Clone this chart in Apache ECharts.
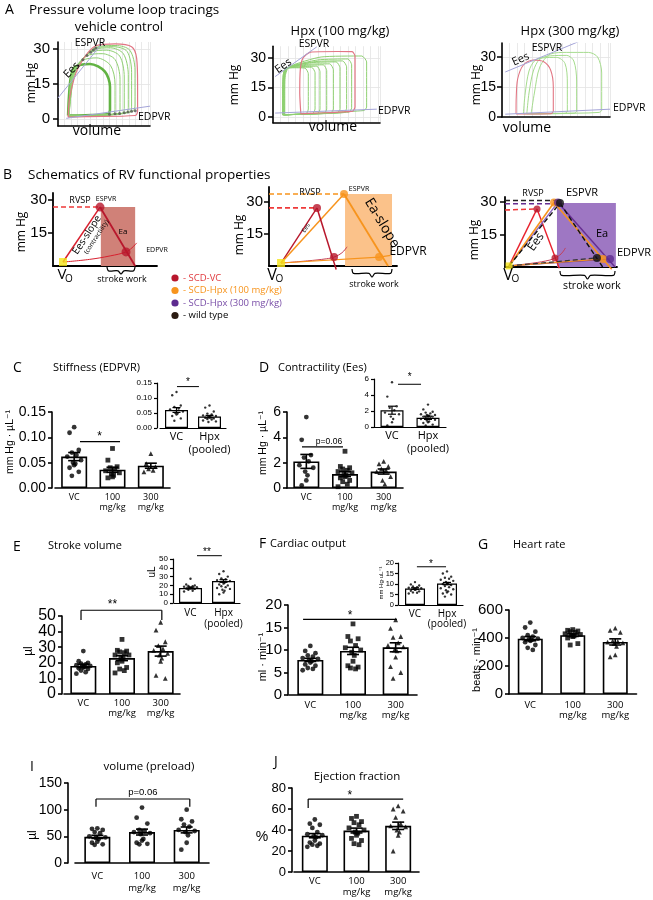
<!DOCTYPE html>
<html><head><meta charset="utf-8">
<script src="https://cdn.jsdelivr.net/npm/echarts@6/dist/echarts.min.js"></script>
<style>html,body{margin:0;padding:0;background:#fff}#c{width:653px;height:900px}</style>
</head><body><div id="c"></div>
<script>
// ================= DATA =================
// ---- Panel A: pressure-volume loops (volume: arbitrary units 0-100, pressure: mm Hg)
const pvTicks = [0, 15, 30];
const vcGreenLoops = [
 [[11,1.5],[12,10],[14,18],[18.5,22.4],[34.8,23.6],[51,20.3],[56.5,13.8],[56.5,4],[54,2],[30,1.6],[11,1.5]],
 [[11.5,1.4],[12.5,10],[15,19],[26,25],[42,26.2],[57,23],[62,15],[62,4],[60,2],[30,1.5],[11.5,1.4]],
 [[12,1.3],[13,10],[16,20],[31,27],[48,28],[62,25.5],[67.4,17],[67.4,4],[65,2.1],[30,1.4],[12,1.3]],
 [[12,1.3],[13,10],[17,20],[35,28.5],[53,29.5],[67,27],[72,18],[72,4.5],[70,2.3],[30,1.4],[12,1.3]],
 [[12,1.2],[13.5,10],[18,21],[38,29.5],[57,30.5],[71,28],[76.4,19],[76.4,5],[74,2.6],[30,1.4],[12,1.2]],
 [[12,1.2],[14,10],[19,21],[40,30.3],[60,31],[75,29],[80,20],[80,5.5],[78,2.9],[30,1.4],[12,1.2]],
 [[12,1.2],[14,10],[20,21],[42,30.8],[63,31.5],[78,29.5],[83.7,21],[83.7,6],[81,3.2],[30,1.4],[12,1.2]]
];
const vcRedLoop = [[11,0.8],[13,10],[22,22],[42,31.5],[62,32.2],[80,31],[85.5,26],[86.5,15],[86.5,3.5],[84,1.5],[30,1],[11,0.8]];
const vcEspvr = [[0,9],[47,32]];
const vcEdpvr = [[9,0.3],[100,5.5]];
const vcEsPts = [[22,22.8],[27,25.4],[31.5,27.2],[35.5,28.6],[38.5,29.6],[41,30.4]];
const vcEdPts = [[56,2],[62,2.2],[67,2.4],[72,2.7],[76,3],[80,3.3],[84,3.5]];

const h100GreenLoops = [
 [[9,1],[9,12],[9.5,21],[11.5,24.5],[22,25],[30,24.8],[33,22],[33,4],[31,1.6],[14,1.1],[9,1]],
 [[9,1],[9,12],[9.5,21],[11.5,24.6],[25,25.3],[36,25.3],[39.3,22.5],[39.3,4],[37,1.7],[14,1.1],[9,1]],
 [[9.5,1],[9.5,12],[10,21],[12,24.7],[27,25.6],[41,25.8],[43.9,23],[43.9,4],[42,1.8],[14,1.1],[9.5,1]],
 [[9.5,1],[9.5,12],[10,21],[12,24.8],[30,26.2],[47,26.5],[50.2,23.5],[50.2,4],[48,1.9],[14,1.1],[9.5,1]],
 [[10,1],[10,12],[10.5,21],[12.5,24.9],[33,26.8],[53,27],[56.4,24],[56.4,4],[54,2],[15,1.1],[10,1]],
 [[10,1],[10,12],[10.5,21],[13,25],[36,27.6],[59,28],[62.6,25],[62.6,4.2],[60.5,2.1],[15,1.1],[10,1]],
 [[10.5,1],[10.5,12],[11,21],[13.5,25],[40,28.2],[65,28.5],[68.8,25.5],[68.8,4.4],[66.5,2.2],[15,1.1],[10.5,1]],
 [[10.5,1],[10.5,12],[11,21],[14,25.2],[42,29],[70,29.5],[73.5,26.5],[73.5,4.6],[71,2.4],[15,1.1],[10.5,1]],
 [[11,1],[11,12],[11.5,21],[15,25.5],[45,30.5],[83,31],[87.5,28],[87.5,5],[85,3.2],[16,1.2],[11,1]]
];
const h100RedLoop = [[26,1.5],[25,12],[25.5,24],[28,30],[35,33],[60,33.3],[74,33.2],[76.6,31],[76.6,5],[74.5,2.9],[40,1.9],[26,1.5]];
const h100Espvr = [[2,20.5],[41,35.7]];
const h100Edpvr = [[2,1.9],[97,3.9]];

const h300GreenLoops = [
 [[19.8,1.6],[21.5,12],[25,23],[30,28],[37,29.5],[50.6,29.8],[58.3,26.8],[60.5,17],[60.5,3],[58.3,1.8],[35,1.6],[19.8,1.6]],
 [[23,1.6],[25,12],[29,23],[35,29],[45,30.6],[60,30.8],[66.5,28],[69.1,18],[69.1,3],[67,1.9],[40,1.7],[23,1.6]],
 [[27,1.7],[30,12],[35,25],[45,31.5],[60,32.3],[80,32.3],[88.5,30],[92.3,22],[92.3,3.5],[90,2.3],[50,1.8],[27,1.7]]
];
const h300RedLoop = [[13,1.5],[13.2,10],[14.5,19],[19.8,26],[29,28.5],[38.3,27.7],[45,23.5],[47.5,15],[47.5,3],[45,1.6],[25,1.5],[13,1.5]];
const h300Espvr = [[3,22.5],[71,37.7]];
const h300Edpvr = [[3,1.4],[100,3.9]];

// ---- Panel B: schematics (volume arbitrary 0-100, pressure mm Hg)
const schTicks = [15, 30];
const b1Vo = [9.6,1.8], b1Esp = [45.2,26.8], b1Edp = [70.2,6.4], b1EaEnd = [79,0];
const b1EdpvrCurve = [[9.6,1.8],[35,3],[55,4.6],[70.2,6.4],[76,8.3],[80.5,10.5]];
const b1StrokeWork = [46,79,26.8];

const b2Vo = [9.4,1.4], b2RedEsp = [37.5,27.2], b2RedEdp = [50.8,4.2], b2OrEsp = [58.6,33.75], b2OrEdp = [86,4.2];
const b2OrEaEnd = [93,0], b2RedEaEnd = [52.5,-1.6];
const b2RedEdpvr = [[9.4,1.4],[30,2.4],[45,3.4],[50.8,4.2],[57,6.2],[61,9]];
const b2OrEdpvr = [[9.4,1.4],[86,4.2],[95,5]];
const b2StrokeWork = [59.4,96.1,33.75];

const b3Vo = [3.6,0.5], b3RedEsp = [28.6,26.8], b3RedEdp = [44.6,4.2];
const b3OrEsp = [43.75,29.8], b3PuEsp = [47.3,29.8], b3BkEsp = [49.1,29.5];
const b3BkEdp = [82.1,4.2], b3OrEdp = [87.5,3.7], b3PuEdp = [93.75,3.7];
const b3RedEaEnd = [48.5,-0.6], b3OrEaEnd = [95.3,-1], b3PuEaEnd = [98.2,0], b3BkEaEnd = [87.2,0];
const b3RedEdpvr = [[3.6,0.5],[25,1.8],[40,3.2],[44.6,4.2],[50,6],[54,8.8]];
const b3StrokeWork = [46.4,99,29.5];
const b3Rvsp = {red:26.3, purple:29.2, black:30.7};

// ---- Bar panels
const groupCats = ['VC', '100\nmg/kg', '300\nmg/kg'];
const pooledCats = ['VC', 'Hpx\n(pooled)'];

const stiffTicks = [0, 0.05, 0.10, 0.15];
const stiffMean = [0.062, 0.036, 0.044], stiffSem = [0.008, 0.005, 0.005];
const stiffVC = [0.12,0.109,0.075,0.07,0.065,0.062,0.055,0.05,0.048,0.045,0.04,0.032,0.024];
const stiff100 = [0.078,0.055,0.042,0.04,0.037,0.034,0.03,0.028,0.025,0.022,0.02];
const stiff300 = [0.068,0.048,0.042,0.038,0.035,0.032];
const stiffPoolMean = [0.06, 0.038], stiffPoolSem = [0.008, 0.004];
const stiffPooled = [0.075,0.068,0.055,0.048,0.045,0.042,0.04,0.038,0.036,0.035,0.034,0.032,0.03,0.028,0.025,0.022,0.02];

const eesTicks = [0, 2, 4, 6];
const eesMean = [2.1, 1.1, 1.3], eesSem = [0.55, 0.2, 0.2];
const eesVC = [5.6,3.8,2.6,2.4,2.1,1.8,1.6,1.3,1.0,0.6,0.2];
const ees100 = [2.9,1.7,1.6,1.5,1.4,1.3,1.2,1.1,1.0,0.9,0.8,0.6,0.5,0.3,0.1];
const ees300 = [2.1,1.9,1.7,1.5,1.4,1.3,0.9,0.6,0.3];
const eesPoolMean = [2.1, 1.15], eesPoolSem = [0.5, 0.2];
const eesPooled = [2.8,2.2,1.9,1.8,1.7,1.6,1.5,1.5,1.4,1.4,1.3,1.3,1.2,1.1,1.0,0.9,0.8,0.7,0.6,0.5,0.3,0.2];

const svTicks = [0, 10, 20, 30, 40, 50];
const svMean = [18, 23, 27.5], svSem = [1.1, 1.6, 3.2];
const svVC = [27.5,21,20,19.5,19,18.5,18,18,17.5,17,16.5,16,15,14,13];
const sv100 = [35,28,27.5,27,26.5,25,25,23,23,21,20,17,16,15,13.5];
const sv300 = [46,41,33.5,31,29,28,26,25,23,21,12,10];
const svPoolMean = [17, 25], svPoolSem = [1, 1.5];
const svPooled = [36,33,30,28,27,26,25,24,23,22,21,20,19,18,17,16,15,14,12,10];

const coTicks = [0, 5, 10, 15, 20];
const coMean = [7.8, 9.8, 10.6], coSem = [0.35, 0.8, 1.0];
const coVC = [10.9,9.8,9.3,8.8,8.5,8.2,8,7.8,7.5,7.2,6.8,6.5,6,5.8,5.5];
const co100 = [15.8,13,12.5,12,11,10.5,10,9.5,8.8,7.5,6.5,6.2,6,5.8];
const co300 = [16.7,14.8,13,12.8,11.6,11,10.7,10,9.8,8.4,6.3,5,3.7];
const coPoolMean = [7.8, 10.2], coPoolSem = [0.4, 0.55];
const coPooled = [16,15,13.5,13,12.5,12,11.5,11,10.5,10,10,9.5,9,8.5,8,7.5,7,6.5,6,5.5,5,4];

const hrTicks = [0, 200, 400, 600];
const hrMean = [395, 420, 372], hrSem = [15, 9, 22];
const hrVC = [510,475,445,420,410,400,395,390,385,380,370,350,330,315];
const hr100 = [460,455,450,445,440,430,425,420,415,410,400,360,350];
const hr300 = [470,455,440,380,375,370,365,360,340,280,265];

const preTicks = [0, 50, 100, 150];
const preMean = [49, 58, 62], preSem = [3, 5.5, 5.5];
const preVC = [65,64,62,58,56,50,48,47,45,40,38,35,34];
const pre100 = [104,85,74,62,60,58,56,54,45,42,38,36,35];
const pre300 = [100,82,78,72,68,62,60,58,52,38,25];

const efTicks = [0, 20, 40, 60, 80];
const efMean = [34.6, 39.5, 44], efSem = [2, 2.3, 3.5];
const efVC = [50,46,45,42,38,36,35,34,33,30,28,27,26,25,24];
const ef100 = [53,51,48,47,45,42,40,38,37,35,32,30,27,26];
const ef300 = [63,60,58,52,46,44,43,40,38,35,20];

// ================= BUILD =================
const SANS = '"Open Sans","Noto Sans",sans-serif';
const ARIAL = '"Liberation Sans","DejaVu Sans",sans-serif';
const grids = [], xAxes = [], yAxes = [], series = [], graphics = [];
const JIT = [0,-1,1,-0.5,0.5,-1.5,1.5,-0.25,0.25];
const axLine = (w) => ({show:true, onZero:false, lineStyle:{color:'#000', width:w||1.6}});

function T(x, y, text, size, o) {
  o = o || {};
  const al = o.align || 'center', va = o.va || 'middle';
  graphics.push({type:'text', x, y, rotation:(o.rot||0)*Math.PI/180, silent:true, z:100,
    style:{text, font:`${size}px ${o.family||SANS}`, fill:o.color||'#000',
      align:al, verticalAlign:va, textAlign:al, textVerticalAlign:va}});
}
function brace(x0, x1, y0, h) {
  const xm = (x0+x1)/2;
  graphics.push({type:'polyline', silent:true, z:100, shape:{points:[[x0,y0],[x0+1.5,y0+h*0.55],[xm-3,y0+h*0.55],[xm,y0+h],[xm+3,y0+h*0.55],[x1-1.5,y0+h*0.55],[x1,y0]], smooth:0.3},
    style:{stroke:'#000', lineWidth:1.2, fill:null}});
}

function line(ax, data, color, width, o) {
  o = o || {};
  series.push({type:'line', xAxisIndex:ax.xi, yAxisIndex:ax.yi, data, showSymbol:false, symbol:'none',
    smooth:o.smooth||false, silent:true, clip:o.clip!==undefined?o.clip:false, z:o.z||2,
    lineStyle:{color, width, type:o.dash?[5,3]:'solid', opacity:o.op||1}});
}
function pts(ax, data, color, size, symbol, z) {
  series.push({type:'scatter', xAxisIndex:ax.xi, yAxisIndex:ax.yi, data, symbol:symbol||'circle', symbolSize:size,
    itemStyle:{color}, silent:true, z:z||3});
}

// ---- PV panel
function pvPanel(o) {
  const gi = grids.push({left:o.left, top:o.top, width:o.width, height:o.height}) - 1;
  const xi = xAxes.push({type:'value', gridIndex:gi, min:0, max:100, interval:7, axisLine:axLine(1.6),
    axisTick:{show:false}, axisLabel:{show:false}, splitLine:{show:true, lineStyle:{color:'#e3e3e3', width:0.8}}}) - 1;
  const yi = yAxes.push({type:'value', gridIndex:gi, min:o.ymin, max:o.ymax, interval:3, axisLine:axLine(1.6),
    axisTick:{show:true, customValues:pvTicks, length:5, lineStyle:{color:'#000', width:1.5}},
    axisLabel:{customValues:pvTicks, fontSize:o.tickFont, fontFamily:ARIAL, color:'#000', margin:o.margin},
    splitLine:{show:true, lineStyle:{color:'#e3e3e3', width:0.8}}}) - 1;
  return {xi, yi};
}
const LG = '#8fd072', LGB = '#62b343', LR = '#e27684', LP = '#a4a4d8';
const a1 = pvPanel({left:58, top:42, width:92, height:84, ymin:-3, ymax:33, tickFont:15, margin:8});
vcGreenLoops.forEach((l,i)=>line(a1, l, i===0?LGB:LG, i===0?2.6:1, {smooth:0.3, clip:true}));
line(a1, vcRedLoop, LR, 1.2, {smooth:0.3, clip:true});
line(a1, vcEspvr, LP, 1, {clip:true}); line(a1, vcEdpvr, LP, 1);
pts(a1, vcEsPts, '#555', 3); pts(a1, vcEdPts, '#555', 3);

const a2 = pvPanel({left:273, top:46.2, width:107, height:76.5, ymin:-3, ymax:36, tickFont:14, margin:7});
h100GreenLoops.forEach((l)=>line(a2, l, LG, 1, {smooth:0.2, clip:true}));
line(a2, h100RedLoop, LR, 1.2, {smooth:0.2, clip:true});
line(a2, h100Espvr, LP, 1, {clip:true}); line(a2, h100Edpvr, LP, 1);

const a3 = pvPanel({left:502, top:43, width:108, height:74, ymin:0, ymax:37, tickFont:14, margin:6});
h300GreenLoops.forEach((l)=>line(a3, l, '#a6dc8e', 1, {smooth:0.3, clip:true}));
line(a3, h300RedLoop, LR, 1.1, {smooth:0.3, clip:true});
line(a3, h300Espvr, LP, 1, {clip:true}); line(a3, h300Edpvr, LP, 1);

// ---- Schematic panels
function schematic(o) {
  const gi = grids.push({left:o.left, top:o.top, width:o.width, height:o.height}) - 1;
  const xi = xAxes.push({type:'value', gridIndex:gi, min:0, max:100, axisLine:axLine(1.8), axisTick:{show:false},
    axisLabel:{show:false}, splitLine:{show:false}}) - 1;
  const yi = yAxes.push({type:'value', gridIndex:gi, min:0, max:o.ymax, axisLine:axLine(1.8),
    axisTick:{show:true, customValues:schTicks, length:5, lineStyle:{color:'#000', width:1.5}},
    axisLabel:{customValues:schTicks, fontSize:15, fontFamily:ARIAL, color:'#000', margin:o.margin},
    splitLine:{show:false}}) - 1;
  return {xi, yi};
}
function swRect(ax, box, color) {
  series.push({type:'custom', xAxisIndex:ax.xi, yAxisIndex:ax.yi, silent:true, z:1, data:[box],
    renderItem:(p, api) => {
      const a = api.coord([api.value(0), 0]), b = api.coord([api.value(1), api.value(2)]);
      return {type:'rect', shape:{x:a[0], y:b[1], width:b[0]-a[0], height:a[1]-b[1]}, style:{fill:color}};
    }});
}
const RED = '#d8202f', DRED = '#b8172c', ORG = '#f7941d', PUR = '#662d91', YEL = '#f4e317';

const b1 = schematic({left:53, top:193, width:104, height:73, ymax:33.2, margin:6});
swRect(b1, b1StrokeWork, '#d08178');
line(b1, [[0,b1Esp[1]], b1Esp], '#ee3a3a', 1.6, {dash:true});
line(b1, [b1Vo, b1Esp], RED, 1.5);
line(b1, [b1Esp, b1EaEnd], DRED, 1.8);
line(b1, b1EdpvrCurve, RED, 1, {smooth:0.4});
pts(b1, [b1Esp, b1Edp], DRED, 9);
pts(b1, [b1Vo], YEL, 8, 'rect', 4);

const b2 = schematic({left:269, top:187, width:128, height:79, ymax:37, margin:6});
swRect(b2, b2StrokeWork, '#fbc28a');
line(b2, [[0,b2OrEsp[1]], b2OrEsp], ORG, 1.6, {dash:true});
line(b2, [[0,b2RedEsp[1]], b2RedEsp], '#ee3a3a', 1.6, {dash:true});
line(b2, [b2Vo, b2RedEsp], DRED, 1.4);
line(b2, [b2Vo, b2OrEsp], ORG, 1.5);
line(b2, [b2RedEsp, b2RedEaEnd], DRED, 1.5);
line(b2, [b2OrEsp, b2OrEaEnd], ORG, 1.8);
line(b2, b2RedEdpvr, '#c43d55', 1, {smooth:0.4});
line(b2, b2OrEdpvr, ORG, 1.2);
pts(b2, [b2RedEsp, b2RedEdp], DRED, 8);
pts(b2, [b2OrEsp, b2OrEdp], ORG, 8);
pts(b2, [b2Vo], YEL, 8, 'rect', 4);

const b3 = schematic({left:505, top:197, width:112, height:70, ymax:32.3, margin:8});
swRect(b3, b3StrokeWork, '#9e77c3');
line(b3, [[0,b3Rvsp.black], [b3BkEsp[0], b3Rvsp.black]], '#222', 1.6, {dash:true});
line(b3, [[0,b3Rvsp.purple], [b3PuEsp[0], b3Rvsp.purple]], PUR, 1.6, {dash:true});
line(b3, [[0,b3Rvsp.red], b3RedEsp], '#ee3a3a', 1.6, {dash:true});
line(b3, [b3Vo, b3RedEsp], '#e8222e', 1.4);
line(b3, [b3RedEsp, b3RedEaEnd], '#e8222e', 1.4);
line(b3, b3RedEdpvr, '#c43d55', 1, {smooth:0.4});
line(b3, [b3Vo, b3PuEsp], '#8a64c0', 1.4);
line(b3, [b3Vo, b3OrEsp], ORG, 1.6);
line(b3, [b3Vo, b3BkEsp], '#111', 1.4, {dash:true});
line(b3, [b3PuEsp, b3PuEaEnd], PUR, 1.4);
line(b3, [b3OrEsp, b3OrEaEnd], ORG, 1.6);
line(b3, [b3BkEsp, b3BkEaEnd], '#111', 1.4, {dash:true});
line(b3, [b3Vo, b3PuEdp], PUR, 1.2);
line(b3, [b3Vo, b3OrEdp], ORG, 1.2);
line(b3, [b3Vo, b3BkEdp], '#333', 1.2, {dash:true});
pts(b3, [b3RedEsp, b3RedEdp], DRED, 7);
pts(b3, [b3OrEsp, b3OrEdp], ORG, 8);
pts(b3, [b3PuEsp, b3PuEdp], '#5e2b8f', 8);
pts(b3, [b3BkEsp, b3BkEdp], '#111', 8);
pts(b3, [b3Vo], YEL, 7, 'rect', 4);

// ---- Bar panels
function errRender(cap, lw) {
  return function (params, api) {
    const x = api.value(0), m = api.value(1), s = api.value(2);
    const t = api.coord([x, m + s]), b = api.coord([x, m - s]);
    const st = {stroke:'#000', lineWidth:lw};
    return {type:'group', children:[
      {type:'line', shape:{x1:t[0], y1:t[1], x2:b[0], y2:b[1]}, style:st},
      {type:'line', shape:{x1:t[0]-cap, y1:t[1], x2:t[0]+cap, y2:t[1]}, style:st},
      {type:'line', shape:{x1:b[0]-cap, y1:b[1], x2:b[0]+cap, y2:b[1]}, style:st}]};
  };
}
function barPanel(o) {
  const gi = grids.push({left:o.left, top:o.top, width:o.width, height:o.height}) - 1;
  const lw = o.lw || 1.6;
  const xc = xAxes.push({type:'category', gridIndex:gi, data:o.cats, axisLine:axLine(lw), axisTick:{show:false},
    axisLabel:{interval:0, color:'#000', fontFamily:o.catFamily||SANS, fontSize:o.catFont, lineHeight:o.catLH, margin:o.catMargin}}) - 1;
  const xv = xAxes.push({type:'value', gridIndex:gi, min:-0.5, max:o.cats.length-0.5, show:false}) - 1;
  const yi = yAxes.push({type:'value', gridIndex:gi, min:0, max:o.ymax, interval:o.interval, offset:o.offset||0,
    axisLine:axLine(lw), axisTick:{show:true, length:o.tickLen||4, lineStyle:{color:'#000', width:lw}},
    axisLabel:{show:false}, splitLine:{show:false}}) - 1;
  // y tick labels drawn through the y scale
  const off = (o.offset||0) + o.tickMargin;
  series.push({type:'custom', xAxisIndex:xv, yAxisIndex:yi, silent:true, z:6, data:o.ticks.map(v => [-0.5, v]),
    renderItem:(p, api) => {
      const v = api.value(1), c = api.coord([-0.5, v]);
      return {type:'text', x:c[0] - off, y:c[1], style:{text: o.dec ? v.toFixed(o.dec) : String(v),
        font:`${o.tickFont}px ${ARIAL}`, fill:'#000', align:'right', verticalAlign:'middle', textAlign:'right', textVerticalAlign:'middle'}};
    }});
  series.push({type:'bar', xAxisIndex:xc, yAxisIndex:yi, data:o.means, barWidth:o.barWidth, silent:true, z:2,
    itemStyle:{color:'#fff', borderColor:'#000', borderWidth:lw}});
  const data = [];
  o.groups.forEach((g, k) => g.forEach((v, i) => data.push({value:[k + JIT[i % JIT.length]*o.spread, v], symbol:o.symbols[k]})));
  series.push({type:'scatter', xAxisIndex:xv, yAxisIndex:yi, data, symbolSize:o.ptSize, silent:true, z:4, itemStyle:{color:'#000'}});
  series.push({type:'custom', xAxisIndex:xv, yAxisIndex:yi, silent:true, z:5,
    data:o.means.map((m, i) => [i, m, o.sems[i]]), renderItem:errRender(o.cap, lw)});
  return {xv, yi};
}
function sig(ax, a) {
  series.push({type:'custom', xAxisIndex:ax.xv, yAxisIndex:ax.yi, silent:true, z:6, data:[[a.x1, a.y]],
    renderItem:(p, api) => {
      const lw = a.lw || 1.2, st = {stroke:'#000', lineWidth:lw};
      const L = api.coord([a.x1, a.y]), R = api.coord([a.x2, a.y]);
      const ch = [{type:'line', shape:{x1:L[0], y1:L[1], x2:R[0], y2:R[1]}, style:st}];
      if (a.leg != null) {
        const l = api.coord([a.x1, a.leg]);
        ch.push({type:'line', shape:{x1:L[0], y1:L[1], x2:L[0], y2:l[1]}, style:st});
        if (!a.leftOnly) { const r = api.coord([a.x2, a.leg]); ch.push({type:'line', shape:{x1:R[0], y1:R[1], x2:R[0], y2:r[1]}, style:st}); }
      }
      const t = api.coord([a.tx, a.ty]), fs = a.fs || 12;
      const dy = a.text.indexOf('*') >= 0 ? fs*0.25 : 0;
      ch.push({type:'text', x:t[0], y:t[1] + dy, style:{text:a.text, font:`${fs}px ${ARIAL}`, fill:'#000',
        align:'center', verticalAlign:'middle', textAlign:'center', textVerticalAlign:'middle'}});
      return {type:'group', children:ch};
    }});
}
const SYM3 = ['circle', 'rect', 'triangle'];
const mainCommon = {cats:groupCats, catFont:9, catLH:10, catMargin:4, barWidth:26, spread:0.12, ptSize:4.8, cap:6, symbols:SYM3};
const insetCommon = {cats:pooledCats, catFont:11, catLH:12.5, catMargin:3, tickFont:8, tickMargin:5, tickLen:3, lw:1.2, spread:0.13, ptSize:2.4, cap:4, symbols:['circle','circle']};

// C
const cMain = barPanel(Object.assign({}, mainCommon, {left:55, top:412, width:115, height:76, ymax:0.15, interval:0.05, ticks:stiffTicks, dec:2, offset:3,
  tickFont:14, tickMargin:6, means:stiffMean, sems:stiffSem, groups:[stiffVC, stiff100, stiff300]}));
sig(cMain, {x1:0.152, x2:1.196, y:0.0914, text:'*', tx:0.66, ty:0.107, fs:12});
const cIn = barPanel(Object.assign({}, insetCommon, {left:160, top:383, width:66, height:45, ymax:0.15, interval:0.05, ticks:stiffTicks, dec:2, offset:3,
  barWidth:23, means:stiffPoolMean, sems:stiffPoolSem, groups:[stiffVC, stiffPooled]}));
sig(cIn, {x1:0.015, x2:0.68, y:0.138, text:'*', tx:0.35, ty:0.16, fs:10, lw:1});
// D
const dMain = barPanel(Object.assign({}, mainCommon, {left:287, top:412, width:116, height:76, ymax:6, interval:2, ticks:eesTicks,
  tickFont:14, tickMargin:6, means:eesMean, sems:eesSem, groups:[eesVC, ees100, ees300]}));
sig(dMain, {x1:-0.112, x2:0.948, y:3.24, text:'p=0.06', tx:0.586, ty:3.68, fs:8.5});
const dIn = barPanel(Object.assign({}, insetCommon, {left:374, top:379, width:72, height:48, ymax:6, interval:2, ticks:eesTicks,
  barWidth:23, means:eesPoolMean, sems:eesPoolSem, groups:[eesVC, eesPooled]}));
sig(dIn, {x1:0.167, x2:0.806, y:5.34, text:'*', tx:0.49, ty:6.5, fs:10, lw:1});
// E
const eMain = barPanel(Object.assign({}, mainCommon, {left:64, top:616, width:116, height:78, ymax:50, interval:10, ticks:svTicks, offset:2,
  catFont:9.5, tickFont:16, tickMargin:6, means:svMean, sems:svSem, groups:[svVC, sv100, sv300]}));
sig(eMain, {x1:-0.06, x2:2.03, y:53.7, leg:47.4, text:'**', tx:0.754, ty:59.2, fs:12});
const eIn = barPanel(Object.assign({}, insetCommon, {left:174, top:559, width:66, height:44, ymax:50, interval:10, ticks:svTicks, offset:1,
  catFont:10, catLH:10.5, catMargin:5, barWidth:23, means:svPoolMean, sems:svPoolSem, groups:[svVC, svPooled]}));
sig(eIn, {x1:0.197, x2:0.95, y:53.75, text:'**', tx:0.5, ty:60, fs:10, lw:1});
// F
const fMain = barPanel(Object.assign({}, mainCommon, {left:289, top:605, width:128, height:90, ymax:20, interval:5, ticks:coTicks, offset:1,
  catFont:9.5, catLH:10.5, catMargin:5, tickFont:15, tickMargin:6, means:coMean, sems:coSem, groups:[coVC, co100, co300]}));
sig(fMain, {x1:-0.17, x2:2.03, y:16.8, text:'*', tx:0.93, ty:18.2, fs:12});
const fIn = barPanel(Object.assign({}, insetCommon, {left:399, top:563, width:64, height:42, ymax:20, interval:5, ticks:coTicks, offset:1,
  catFont:10, catLH:10, catMargin:4, tickFont:7.5, tickMargin:4, barWidth:20, means:coPoolMean, sems:coPoolSem, groups:[coVC, coPooled]}));
sig(fIn, {x1:0.06, x2:0.97, y:18.2, text:'*', tx:0.5, ty:20.5, fs:10, lw:1});
// G
barPanel(Object.assign({}, mainCommon, {left:509, top:610, width:127.5, height:84, ymax:600, interval:200, ticks:hrTicks,
  catFont:9.5, catLH:10.5, catMargin:6, barWidth:25, tickFont:15, tickMargin:6, means:hrMean, sems:hrSem, groups:[hrVC, hr100, hr300]}));
// I
const iMain = barPanel(Object.assign({}, mainCommon, {left:75, top:783, width:134, height:80, ymax:150, interval:50, ticks:preTicks, offset:7,
  catFont:9.5, catLH:12, catMargin:7, tickFont:14, tickMargin:6, means:preMean, sems:preSem, groups:[preVC, pre100, pre300],
  symbols:['circle','circle','circle']}));
sig(iMain, {x1:-0.03, x2:2.07, y:120, leg:105.6, text:'p=0.06', tx:1.02, ty:132, fs:9.5});
// J
const jMain = barPanel(Object.assign({}, mainCommon, {left:294, top:788, width:125, height:84, ymax:80, interval:20, ticks:efTicks, offset:2,
  catFont:9.5, catLH:11, catMargin:4, tickFont:13, tickMargin:6, means:efMean, sems:efSem, groups:[efVC, ef100, ef300]}));
sig(jMain, {x1:-0.16, x2:2.12, y:69.5, leg:61, leftOnly:true, text:'*', tx:0.84, ty:76, fs:12});

// ---- Texts
T(5, 10.5, 'A', 14, {align:'left'});
T(29, 10.5, 'Pressure volume loop tracings', 13.5, {align:'left'});
T(119, 27.5, 'vehicle control', 13);
T(340, 31.7, 'Hpx (100 mg/kg)', 13);
T(570, 31.7, 'Hpx (300 mg/kg)', 13);
T(90, 43, 'ESPVR', 10.5); T(314, 44.3, 'ESPVR', 10.5); T(547, 48.3, 'ESPVR', 10.5);
T(71.7, 70, 'Ees', 11, {rot:45}); T(283.3, 66, 'Ees', 11, {rot:35}); T(520.7, 59.3, 'Ees', 11, {rot:25});
T(138, 117, 'EDPVR', 10.5, {align:'left'}); T(378, 111, 'EDPVR', 10.5, {align:'left'}); T(613, 108, 'EDPVR', 10.5, {align:'left'});
T(97, 131, 'volume', 14); T(333, 127, 'volume', 14); T(527, 128, 'volume', 14);
T(32, 83, 'mm Hg', 12, {rot:90}); T(235, 85, 'mm Hg', 12, {rot:90}); T(477, 85, 'mm Hg', 12, {rot:90});

T(3, 175, 'B', 14, {align:'left'});
T(28, 175, 'Schematics of RV functional properties', 13.5, {align:'left'});
T(22, 232, 'mm Hg', 12, {rot:90}); T(240, 235, 'mm Hg', 12, {rot:90}); T(475, 240, 'mm Hg', 12, {rot:90});
// B1
T(80, 200, 'RVSP', 9); T(106, 199, 'ESPVR', 7); T(123, 232, 'Ea', 8); T(157, 250, 'EDPVR', 7);
T(87, 235, 'Ees-slope', 10, {rot:57}); T(96.5, 237, '(contractility)', 6.5, {rot:57});
T(62, 275, 'V', 15); T(69, 279, 'O', 10);
T(122, 279, 'stroke work', 9); brace(107, 135, 267, 7);
// B2
T(310, 192, 'RVSP', 9); T(359, 189, 'ESPVR', 7); T(306, 228, 'Ees', 6, {rot:57});
T(382, 223, 'Ea-slope', 14, {rot:-59}); T(408, 252, 'EDPVR', 12);
T(272, 275, 'V', 16); T(279.5, 279, 'O', 10);
T(374, 284, 'stroke work', 9); brace(352, 392, 269, 8);
// B3
T(533, 193, 'RVSP', 9); T(582, 193, 'ESPVR', 11); T(602, 234, 'Ea', 11); T(634, 253, 'EDPVR', 11);
T(536, 242, 'Ees', 12, {rot:55});
T(508, 275, 'V', 16); T(515.5, 279, 'O', 10);
T(592, 286, 'stroke work', 10.5); brace(560, 615, 271, 8);
// legend
const legRows = [['- SCD-VC', '#e03a3e', DRED], ['- SCD-Hpx (100 mg/kg)', ORG, ORG], ['- SCD-Hpx (300 mg/kg)', '#7a4fa8', '#5e2b8f'], ['- wild type', '#000', '#2b1b12']];
legRows.forEach((r, i) => {
  const y = 278 + i*12.5;
  graphics.push({type:'circle', silent:true, z:100, shape:{cx:175, cy:y, r:3.6}, style:{fill:r[2]}});
  T(183, y, r[0], 9.5, {align:'left', color:r[1]});
});

// bar panel titles
T(13, 368, 'C', 14, {align:'left'}); T(53, 368, 'Stiffness (EDPVR)', 11, {align:'left'});
T(259, 368, 'D', 14, {align:'left'}); T(278, 368, 'Contractility (Ees)', 11, {align:'left'});
T(13, 547, 'E', 14, {align:'left'}); T(48, 546, 'Stroke volume', 11, {align:'left'});
T(259, 544, 'F', 14, {align:'left'}); T(270, 544, 'Cardiac output', 11, {align:'left'});
T(478, 545, 'G', 14, {align:'left'}); T(513, 545, 'Heart rate', 11, {align:'left'});
T(30, 767, 'I', 14, {align:'left'}); T(149, 767, 'volume (preload)', 11.5);
T(274, 762, 'J', 14, {align:'left'}); T(357, 777, 'Ejection fraction', 11.5);
// y names
T(10, 442, 'mm Hg · µL⁻¹', 10.5, {rot:90, family:ARIAL});
T(263, 443, 'mm Hg · µL⁻¹', 10.5, {rot:90, family:ARIAL});
T(29, 651, 'µl', 12, {rot:90, family:ARIAL});
T(152, 572, 'uL', 10, {rot:90, family:ARIAL});
T(263, 657, 'ml · min⁻¹', 11, {rot:90, family:ARIAL});
T(381, 583, 'mm Hg·uL⁻¹', 6, {rot:90, family:ARIAL});
T(477, 660, 'beats · min⁻¹', 11, {rot:90, family:ARIAL});
T(33, 835, 'µl', 12, {rot:90, family:ARIAL});
T(262, 837, '%', 14, {family:ARIAL});

const chart = echarts.init(document.getElementById('c'), null, {width:653, height:900});
chart.setOption({
  animation:false, backgroundColor:'#fff', textStyle:{fontFamily:SANS},
  grid:grids, xAxis:xAxes, yAxis:yAxes, series, graphic:{elements:graphics}
});
</script></body></html>
